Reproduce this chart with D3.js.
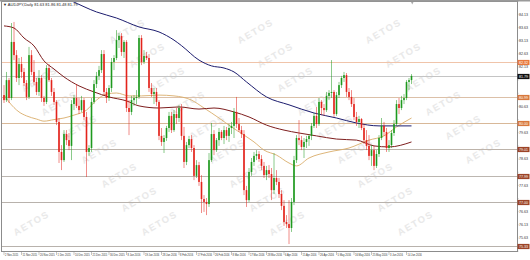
<!DOCTYPE html>
<html>
<head>
<meta charset="utf-8">
<script src="https://cdn.jsdelivr.net/npm/d3@7"></script>
<style>
  body { margin: 0; background: #fff; }
  svg { display: block; font-family: "Liberation Sans", Arial, sans-serif; }
</style>
</head>
<body>
<div id="chart"></div>
<script>

// title shown top left
var symbolTitle = "AUDJPY,Daily";

// daily candles [open, high, low, close]
var ohlc = [
  [81.06,81.44,80.76,80.87],[80.87,81.94,80.80,81.63],[81.63,81.71,80.76,80.95],[80.95,83.80,80.87,83.08],
  [83.08,83.84,82.39,82.58],[82.58,82.77,81.56,81.71],[81.71,82.47,81.44,82.24],[82.24,82.51,81.71,81.94],
  [81.94,82.09,81.41,81.52],[81.52,81.63,80.87,80.99],[80.99,82.89,80.91,82.58],[82.58,82.77,81.82,81.94],
  [81.94,82.39,81.44,81.56],[81.56,81.71,81.06,81.18],[81.18,82.01,81.03,81.71],[81.71,81.82,80.80,80.95],
  [80.95,81.03,80.65,80.80],[80.80,82.20,80.72,82.09],[82.09,82.24,81.56,81.63],[81.63,81.71,81.03,81.18],
  [81.18,81.33,80.68,80.80],[80.80,80.87,79.92,80.04],[80.04,80.19,78.48,78.90],[78.90,79.16,78.21,78.59],
  [78.59,79.73,78.52,79.58],[79.58,79.73,79.16,79.35],[79.35,79.62,78.97,79.13],[79.13,80.87,78.59,80.72],
  [80.72,81.06,80.49,80.95],[80.95,81.48,80.57,80.65],[80.65,80.95,80.34,80.49],[80.49,81.03,80.42,80.87],
  [80.87,80.95,80.11,80.23],[80.23,80.42,77.95,78.90],[78.90,79.16,78.75,79.05],[79.05,80.95,78.90,80.80],
  [80.80,81.63,80.72,81.48],[81.48,81.94,81.33,81.79],[81.79,82.17,81.63,82.01],[82.01,82.77,81.90,82.62],
  [82.62,82.77,81.06,81.18],[81.18,81.33,80.76,80.95],[80.95,81.44,80.84,81.33],[81.33,82.47,81.18,82.32],
  [82.32,82.58,82.01,82.47],[82.47,83.53,82.39,83.15],[83.15,83.42,82.85,83.31],[83.31,83.42,82.55,82.70],
  [82.70,83.15,82.47,83.08],[83.08,83.15,80.42,80.57],[80.57,80.87,79.54,80.42],[80.42,81.03,80.30,80.87],
  [80.87,81.06,80.65,80.95],[80.95,81.25,80.72,80.99],[80.99,83.34,80.91,83.23],[83.23,83.34,82.20,82.32],
  [82.32,82.77,82.24,82.55],[82.55,82.70,82.39,82.47],[82.47,82.62,81.18,81.33],[81.33,81.52,80.99,81.10],
  [81.10,81.33,80.72,81.18],[81.18,81.33,80.65,80.80],[80.80,80.87,79.35,79.51],[79.51,79.81,79.13,79.28],
  [79.28,79.54,78.86,79.43],[79.43,79.89,79.32,79.81],[79.81,80.42,79.66,80.27],[80.27,80.42,79.62,79.73],
  [79.73,80.49,79.66,80.34],[80.34,80.57,79.96,80.19],[80.19,80.68,80.04,80.57],[80.57,80.72,79.35,79.51],
  [79.51,79.85,78.29,78.52],[78.52,79.28,78.40,79.16],[79.16,79.51,79.05,79.39],[79.39,79.54,78.90,79.05],
  [79.05,79.16,77.83,77.99],[77.99,78.59,77.91,78.40],[78.40,78.52,77.61,77.76],[77.76,78.02,76.58,77.11],
  [77.11,77.26,76.62,77.00],[77.00,77.15,76.50,76.92],[76.92,78.86,76.81,78.59],[78.59,80.00,78.52,79.58],
  [79.58,79.73,78.78,78.97],[78.97,79.43,78.90,79.35],[79.35,79.81,79.13,79.66],[79.66,79.73,79.35,79.43],
  [79.43,79.89,79.20,79.73],[79.73,79.85,79.35,79.51],[79.51,79.96,79.28,79.81],[79.81,80.04,79.58,79.89],
  [79.89,80.57,79.43,80.42],[80.42,80.99,79.81,79.96],[79.96,80.19,79.66,79.73],[79.73,79.89,79.43,79.58],
  [79.58,79.73,77.26,77.45],[77.45,77.61,76.81,77.07],[77.07,78.29,77.00,78.14],[78.14,78.67,77.99,78.52],
  [78.52,78.90,78.37,78.75],[78.75,78.97,78.59,78.82],[78.82,78.93,78.52,78.63],[78.63,78.78,78.21,78.37],
  [78.37,78.52,77.91,78.02],[78.02,78.37,77.83,78.21],[78.21,78.40,77.91,78.06],[78.06,78.29,77.07,77.45],
  [77.45,78.86,77.30,77.91],[77.91,78.21,77.64,77.76],[77.76,77.91,77.15,77.30],[77.30,77.45,76.69,76.85],
  [76.85,77.07,76.09,76.24],[76.24,76.50,76.01,76.16],[76.16,77.07,75.40,76.01],[76.01,77.15,75.86,77.00],
  [77.00,78.75,76.88,78.59],[78.59,79.54,78.48,79.43],[79.43,80.11,79.16,79.35],[79.35,79.51,78.97,79.09],
  [79.09,79.43,78.67,79.28],[79.28,79.51,79.05,79.39],[79.39,79.58,79.13,79.51],[79.51,80.00,79.35,79.89],
  [79.89,80.38,79.81,80.27],[80.27,80.61,79.81,79.96],[79.96,80.95,79.89,80.80],[80.80,80.87,80.30,80.57],
  [80.57,80.72,80.27,80.49],[80.49,81.18,80.42,81.03],[81.03,81.25,80.87,81.14],[81.14,82.39,80.95,81.18],
  [81.18,81.25,80.23,80.34],[80.34,81.18,80.27,81.06],[81.06,81.56,80.95,81.44],[81.44,81.79,81.33,81.71],
  [81.71,81.94,81.56,81.82],[81.82,81.90,80.99,81.18],[81.18,81.33,80.87,80.99],[80.99,81.25,80.61,80.72],
  [80.72,80.95,80.11,80.23],[80.23,80.42,79.89,80.04],[80.04,80.27,79.81,80.15],[80.15,80.19,79.73,79.81],
  [79.81,79.96,79.20,79.35],[79.35,79.73,78.97,79.13],[79.13,79.54,78.59,78.75],[78.75,79.16,78.37,78.97],
  [78.97,79.13,78.21,78.37],[78.37,78.97,78.29,78.82],[78.82,79.54,78.71,79.43],[79.43,80.19,79.35,79.89],
  [79.89,80.04,79.51,79.66],[79.66,79.81,78.90,79.05],[79.05,79.35,78.90,79.16],[79.16,79.73,79.05,79.62],
  [79.62,80.11,79.51,79.96],[79.96,80.87,79.89,80.72],[80.72,80.95,80.34,80.57],[80.57,81.03,80.49,80.87],
  [80.87,81.10,80.72,80.95],[80.95,81.63,80.87,81.56],[81.56,81.71,81.25,81.63],[81.63,81.86,81.48,81.79]
];

// moving averages, read as [bar, value]
var maSlow = [[22,84.86],[27,84.64],[37,84.22],[45,83.99],[54,83.65],[62,83.46],[68,83.15],[71,82.94],
  [78,82.39],[83,82.17],[88,82.09],[92,81.94],[97,81.56],[105,80.99],[114,80.69],[124,80.38],
  [133,80.19],[141,80.00],[150,79.89],[163,79.89]];
var maMid = [[0,83.69],[4,83.61],[8,83.23],[12,82.93],[16,82.36],[20,82.05],[24,81.75],[30,81.41],
  [36,81.18],[42,80.99],[49,80.84],[54,80.65],[62,80.57],[70,80.61],[78,80.53],[84,80.57],
  [92,80.42],[98,80.23],[105,79.92],[112,79.73],[118,79.62],[125,79.51],[133,79.39],[141,79.35],
  [148,79.13],[154,79.09],[163,79.28]];
var maFast = [[0,81.06],[2,80.80],[6,80.42],[9,80.27],[13,80.15],[16,80.07],[20,80.13],[24,80.19],
  [28,80.30],[33,80.49],[37,80.87],[41,81.10],[45,81.14],[50,81.03],[55,81.03],[62,81.06],
  [68,81.03],[75,80.87],[80,80.57],[86,80.19],[91,79.85],[96,79.54],[100,79.28],[104,78.97],
  [109,78.78],[114,78.48],[117,78.37],[122,78.67],[130,78.90],[138,79.05],[146,79.35],[152,79.51],
  [157,79.85],[163,80.19]];

// horizontal levels
var levels = [82.32, 80.99, 80.00, 79.01, 77.99, 77.00, 75.33];

// price scale labels
var priceTicks = [84.63,84.13,83.63,83.13,82.63,82.13,81.63,81.13,80.63,80.13,
                  79.63,79.13,78.63,78.13,77.63,77.13,76.63,76.13,75.63,75.13];

// date labels, one every 7 bars
var dateLabels = ["2 Nov 2015","11 Nov 2015","20 Nov 2015","1 Dec 2015","10 Dec 2015","21 Dec 2015",
  "30 Dec 2015","8 Jan 2016","19 Jan 2016","28 Jan 2016","8 Feb 2016","17 Feb 2016","26 Feb 2016",
  "8 Mar 2016","17 Mar 2016","28 Mar 2016","6 Apr 2016","15 Apr 2016","26 Apr 2016","5 May 2016",
  "16 May 2016","25 May 2016","3 Jun 2016","14 Jun 2016"];


var W = 530, H = 260;
var plot = { left: 2, top: 2, right: 517, bottom: 251 };

var svg = d3.select("#chart").append("svg")
    .attr("width", W)
    .attr("height", H);

var x = d3.scaleLinear()
    .domain([0, ohlc.length - 1])
    .range([4, 4 + 2.5 * (ohlc.length - 1)]);

var y = d3.scaleLinear()
    .domain([75.136, 84.674])
    .range([251, 0]);

svg.append("defs").append("clipPath")
    .attr("id", "clip")
  .append("rect")
    .attr("x", plot.left)
    .attr("y", plot.top)
    .attr("width", plot.right - plot.left)
    .attr("height", plot.bottom - plot.top);

// watermark, only the whole words that fit inside the plot
var wm = svg.append("g");
for (var m = -3; m < 5; m++) {
  for (var j = 0; j < 11; j++) {
    var wx = 237 + 128 * m + 20 * j, wy = 10 + 24 * j;
    if (wx < 22 || wx > 498 || wy < 14 || wy > 240) continue;
    wm.append("text")
        .attr("transform", "translate(" + wx + "," + wy + ") rotate(-30)")
        .attr("text-anchor", "middle")
        .attr("font-size", 9.5)
        .attr("font-weight", "bold")
        .attr("letter-spacing", 1.5)
        .attr("fill", "#e9e9e9")
        .text("AETOS");
  }
}

var g = svg.append("g").attr("clip-path", "url(#clip)");

// levels
var levelLine = ["#f0c4aa", "#dcc0a8", "#d8b898", "#bdb3aa", "#bcb6b0", "#b8b2ac", "#b8b2ac"];
var levelBox  = ["#e8783c", "#d8783c", "#d8783c", "#9c4428", "#9c4428", "#9c4428", "#9c4428"];
var last = ohlc[ohlc.length - 1];

g.selectAll(".level")
    .data(levels)
  .enter().append("line")
    .attr("class", "level")
    .attr("x1", plot.left).attr("x2", plot.right)
    .attr("y1", function(d) { return Math.round(y(d)) + 0.5; })
    .attr("y2", function(d) { return Math.round(y(d)) + 0.5; })
    .attr("stroke", function(d, i) { return levelLine[i]; })
    .attr("stroke-width", 1.2);

// current price line
g.append("line")
    .attr("x1", plot.left).attr("x2", plot.right)
    .attr("y1", Math.round(y(last[3])) + 0.5)
    .attr("y2", Math.round(y(last[3])) + 0.5)
    .attr("stroke", "#c4c4c4")
    .attr("stroke-width", 1);

// moving averages
var maLine = d3.line()
    .curve(d3.curveMonotoneX)
    .x(function(d) { return x(d[0]); })
    .y(function(d) { return y(d[1]); });

g.append("path").attr("d", maLine(maFast))
    .attr("fill", "none").attr("stroke", "#d9ad6a").attr("stroke-width", 0.9);
g.append("path").attr("d", maLine(maMid))
    .attr("fill", "none").attr("stroke", "#7e1e1e").attr("stroke-width", 1);
g.append("path").attr("d", maLine(maSlow))
    .attr("fill", "none").attr("stroke", "#1c1c6e").attr("stroke-width", 1);

// candles
var up = "#1e9a1e", down = "#e3241c";
var candle = g.selectAll(".candle")
    .data(ohlc)
  .enter().append("g")
    .attr("class", "candle");

candle.append("line")
    .attr("x1", function(d, i) { return x(i); })
    .attr("x2", function(d, i) { return x(i); })
    .attr("y1", function(d) { return y(d[1]); })
    .attr("y2", function(d) { return y(d[2]); })
    .attr("stroke", function(d) { return d[3] >= d[0] ? up : down; })
    .attr("stroke-opacity", 0.75)
    .attr("stroke-width", 0.7);

candle.append("rect")
    .attr("x", function(d, i) { return x(i) - 0.8; })
    .attr("width", 1.6)
    .attr("y", function(d) { return y(Math.max(d[0], d[3])); })
    .attr("height", function(d) { return Math.max(0.8, Math.abs(y(d[0]) - y(d[3]))); })
    .attr("fill", function(d) { return d[3] >= d[0] ? up : down; });

// frame
svg.append("rect")
    .attr("x", plot.left - 0.5).attr("y", plot.top - 0.5)
    .attr("width", plot.right - plot.left + 1)
    .attr("height", plot.bottom - plot.top + 1)
    .attr("fill", "none")
    .attr("stroke", "#8c8c8c")
    .attr("stroke-width", 1);
svg.append("line")
    .attr("x1", 0).attr("x2", W).attr("y1", 0.8).attr("y2", 0.8)
    .attr("stroke", "#9a9a9a").attr("stroke-width", 1.6);

// chart shift marker
svg.append("path")
    .attr("d", "M" + (x(ohlc.length - 1) + 2) + ",2 l-2.5,0 l1.25,2.5 z")
    .attr("fill", "#aaa");

// price axis
var boxYs = levels.map(function(d) { return y(d); }).concat([y(last[3])]);
svg.append("g").selectAll("text")
    .data(priceTicks.filter(function(p) {
      return y(p) > 2 && y(p) < 249 &&
        boxYs.every(function(b) { return Math.abs(y(p) - b) > 4.5; });
    }))
  .enter().append("text")
    .attr("x", 519)
    .attr("y", function(d) { return y(d) + 1.3; })
    .attr("font-size", 3.6)
    .attr("fill", "#333")
    .text(function(d) { return d.toFixed(2); });

svg.append("g").selectAll("line")
    .data(priceTicks)
  .enter().append("line")
    .attr("x1", plot.right).attr("x2", plot.right + 1.5)
    .attr("y1", function(d) { return y(d); })
    .attr("y2", function(d) { return y(d); })
    .attr("stroke", "#888").attr("stroke-width", 0.5);

function priceBox(p, fill) {
  var yy = Math.round(y(p)) + 0.5;
  svg.append("rect")
      .attr("x", plot.right + 0.5).attr("y", yy - 2.6)
      .attr("width", 12).attr("height", 5.2)
      .attr("fill", fill);
  svg.append("text")
      .attr("x", plot.right + 2).attr("y", yy + 1.3)
      .attr("font-size", 3.6)
      .attr("fill", "#fff")
      .text(p.toFixed(2));
}
levels.forEach(function(p, i) { priceBox(p, levelBox[i]); });
priceBox(last[3], "#111");

// time axis
var dates = svg.append("g");
dateLabels.forEach(function(label, k) {
  var xx = x(k * 7);
  dates.append("line")
      .attr("x1", xx).attr("x2", xx)
      .attr("y1", plot.bottom).attr("y2", plot.bottom + 4)
      .attr("stroke", "#888").attr("stroke-width", 0.5);
  dates.append("text")
      .attr("x", xx + 1)
      .attr("y", plot.bottom + 4.5)
      .attr("font-size", 2.6)
      .attr("fill", "#333")
      .text(label);
});

// title
svg.append("text")
    .attr("x", 3).attr("y", 6)
    .attr("font-size", 4)
    .attr("fill", "#222")
    .text("\u25BC " + symbolTitle + "  " + last.map(function(v) { return v.toFixed(2); }).join(" "));

</script>
</body>
</html>
